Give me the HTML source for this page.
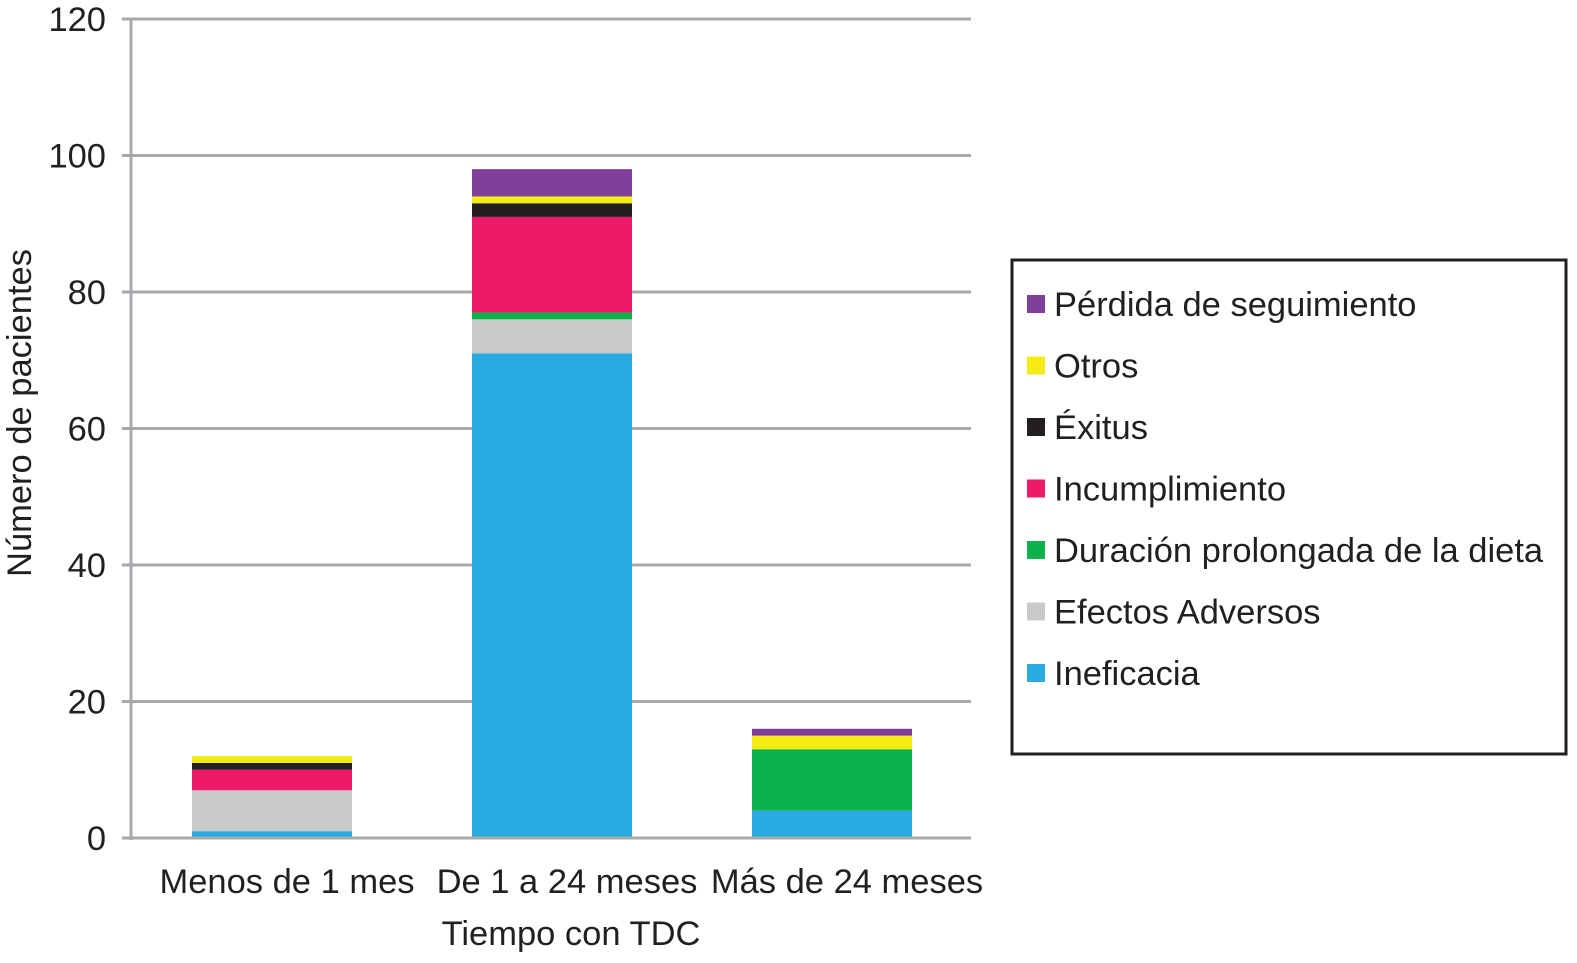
<!DOCTYPE html>
<html><head><meta charset="utf-8"><style>
html,body{margin:0;padding:0;background:#fff;}
svg text{font-family:"Liberation Sans",sans-serif;fill:#231f20;}
</style></head><body>
<svg id="chart" width="1577" height="958" xmlns="http://www.w3.org/2000/svg"></svg>
<script>
const categories = ["Menos de 1 mes","De 1 a 24 meses","Más de 24 meses"];
const seriesNames = ["Ineficacia","Efectos Adversos","Duración prolongada de la dieta","Incumplimiento","Éxitus","Otros","Pérdida de seguimiento"];
const seriesColors = ["#29abe2","#c8c9ca","#0bb14b","#ec1a67","#231f20","#f5eb14","#7f3f98"];
const ineficacia = [1,71,4];
const efectos = [6,5,0];
const duracion = [0,1,9];
const incumplimiento = [3,14,0];
const exitus = [1,2,0];
const otros = [1,1,2];
const perdida = [0,4,1];
const yTicks = [0,20,40,60,80,100,120];
const seriesValues = [ineficacia,efectos,duracion,incumplimiento,exitus,otros,perdida];

const NS="http://www.w3.org/2000/svg";
const svg=document.getElementById('chart');
const y0=838, pxPerUnit=(838-19)/120;
const yScale=v=>y0-v*pxPerUnit;
const xScale=i=>192+i*280;
const barW=160;
const FS=34.5;
function el(tag,attrs,parent){const e=document.createElementNS(NS,tag);for(const k in attrs)e.setAttribute(k,attrs[k]);(parent||svg).appendChild(e);return e;}

yTicks.forEach(t=>{
  const l=el('line',{x1:122,x2:971,y1:yScale(t),y2:yScale(t),stroke:'#a7a9ac','stroke-width':3});
  
  
  const tx=el('text',{x:106,y:yScale(t)+12,'text-anchor':'end','font-size':FS});
  tx.textContent=t;
  
  
});
const ax=el('line',{x1:131,x2:131,y1:19,y2:840,stroke:'#a7a9ac','stroke-width':3});



categories.forEach((c,i)=>{
  let cum=0;
  seriesValues.forEach((arr,s)=>{
    const v=arr[i];
    if(v>0){
      const r=el('rect',{x:xScale(i),y:yScale(cum+v),width:barW,height:v*pxPerUnit,fill:seriesColors[s]});
      
      
    }
    cum+=v;
  });
  const tx=el('text',{x:xScale(i)+barW/2+15,y:893,'text-anchor':'middle','font-size':FS});
  tx.textContent=c;
  
  
});
const xa=el('line',{x1:122,x2:971,y1:838,y2:838,stroke:'#a7a9ac','stroke-width':3});



const xt=el('text',{x:571,y:945,'text-anchor':'middle','font-size':FS});
xt.textContent='Tiempo con TDC';


const yt=el('text',{x:0,y:0,'text-anchor':'middle','font-size':FS,transform:'translate(31,413) rotate(-90)'});
yt.textContent='Número de pacientes';



const lg=el('rect',{x:1012,y:260,width:554,height:494,fill:'#fff',stroke:'#231f20','stroke-width':3});


for(let k=0;k<seriesNames.length;k++){
  const s=seriesNames.length-1-k;
  const yy=304+k*61.5;
  const sq=el('rect',{x:1027,y:yy-9,width:18,height:18,fill:seriesColors[s]});
  
  
  const t=el('text',{x:1054,y:yy+12,'font-size':FS});
  t.textContent=seriesNames[s];
  
  
}
</script>
</body></html>
